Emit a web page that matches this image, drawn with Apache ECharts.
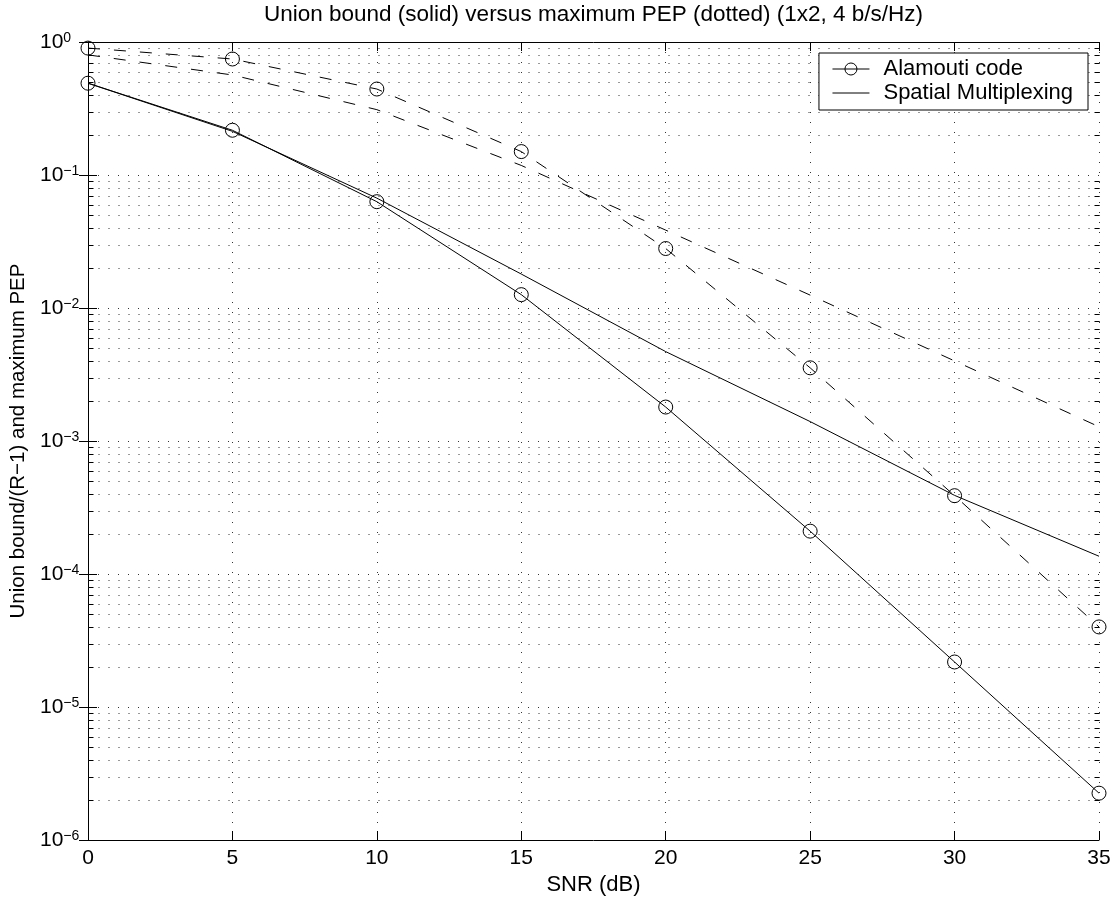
<!DOCTYPE html>
<html>
<head>
<meta charset="utf-8">
<script src="https://cdn.jsdelivr.net/npm/echarts@6/dist/echarts.min.js"></script>
<style>
  html, body { margin: 0; padding: 0; background: #fff; }
  #chart { width: 1120px; height: 907px; }
</style>
</head>
<body>
<div id="chart"></div>
<script>
// SNR points (dB)
const snr = [0, 5, 10, 15, 20, 25, 30, 35];
// Union bound / (R-1), solid curves
const alamoutiUnion = [0.49, 0.217, 0.063, 0.0126, 0.0018, 2.1e-4, 2.18e-5, 2.25e-6];
const smUnion = [0.49, 0.213, 0.067, 0.0180, 0.0047, 0.00140, 3.9e-4, 1.36e-4];
// Maximum pairwise error probability, dashed curves
const alamoutiPEP = [0.90, 0.745, 0.443, 0.150, 0.0280, 0.00355, 3.88e-4, 4.0e-5];
const smPEP = [0.80, 0.565, 0.310, 0.118, 0.0385, 0.0125, 0.0040, 0.00128];

const xTicks = [0, 5, 10, 15, 20, 25, 30, 35];
const yDecades = [-6, -5, -4, -3, -2, -1, 0];
const legendNames = ['Alamouti code', 'Spatial Multiplexing'];
const titleText = 'Union bound (solid) versus maximum PEP (dotted) (1x2, 4 b/s/Hz)';
const xName = 'SNR (dB)';
const yName = 'Union bound/(R\u22121) and maximum PEP';

const FONT = '"Liberation Sans", Arial, Helvetica, sans-serif';

// minor log-grid positions: 2..9 within each decade
const minorValues = [];
for (let i = 0; i < yDecades.length - 1; i++) {
  for (let m = 2; m <= 9; m++) minorValues.push(m * Math.pow(10, yDecades[i]));
}

const pair = (ys) => snr.map((x, i) => [x, ys[i]]);
const DOT = [1, 9];
const DASH = [12, 14];
const X0 = xTicks[0], X1 = xTicks[xTicks.length - 1];
const YMIN = Math.pow(10, yDecades[0]), YMAX = Math.pow(10, yDecades[yDecades.length - 1]);
const OPEN_CIRCLE = { color: 'rgba(0,0,0,0)', borderColor: '#000', borderWidth: 1 };

const chart = echarts.init(document.getElementById('chart'), null, { renderer: 'canvas' });

const option = {
  animation: false,
  backgroundColor: '#fff',
  textStyle: { fontFamily: FONT, color: '#000' },
  grid: { left: 88, right: 21, top: 42, bottom: 67, containLabel: false },
  graphic: [{
    type: 'text',
    x: 593.5, y: 15,
    style: { text: titleText, font: '22.5px ' + FONT, fill: '#000', align: 'center', verticalAlign: 'middle' }
  }],
  legend: {
    data: [
      { name: legendNames[0], itemStyle: OPEN_CIRCLE },
      { name: legendNames[1], itemStyle: { color: 'rgba(0,0,0,0)', borderWidth: 0 } }
    ],
    orient: 'vertical',
    right: 32, top: 53,
    backgroundColor: '#fff',
    borderColor: '#000', borderWidth: 1, borderRadius: 0,
    padding: [4, 15, 5, 13],
    itemWidth: 37, itemHeight: 15, itemGap: 0,
    selectedMode: false,
    lineStyle: { width: 1, color: '#000' },
    textStyle: { fontFamily: FONT, fontSize: 22, lineHeight: 24, color: '#000', padding: [0, 0, 0, 9] }
  },
  xAxis: [{
    type: 'value', min: X0, max: X1, interval: 5, position: 'bottom',
    name: xName, nameLocation: 'middle', nameGap: 34,
    nameTextStyle: { fontFamily: FONT, fontSize: 22, color: '#000' },
    axisLine: { lineStyle: { color: '#000', width: 1 } },
    axisTick: { inside: true, length: 9, lineStyle: { color: '#000' } },
    axisLabel: { fontFamily: FONT, fontSize: 21, color: '#000', margin: 8 },
    splitLine: { show: true, lineStyle: { color: '#333', type: DOT, width: 1 } }
  }, {
    type: 'value', min: X0, max: X1, interval: 5, position: 'top',
    axisLine: { lineStyle: { color: '#000', width: 1 } },
    axisTick: { inside: true, length: 9, lineStyle: { color: '#000' } },
    axisLabel: { show: false }, splitLine: { show: false }
  }],
  yAxis: [{
    type: 'log', logBase: 10, min: YMIN, max: YMAX, position: 'left',
    name: yName, nameLocation: 'middle', nameGap: 57,
    nameTextStyle: { fontFamily: FONT, fontSize: 20.5, color: '#000' },
    axisLine: { lineStyle: { color: '#000', width: 1 } },
    axisTick: { inside: true, length: 9, lineStyle: { color: '#000' } },
    axisLabel: {
      align: 'left', margin: 48,
      formatter: (v) => {
        const e = Math.round(Math.log10(v));
        return '{b|10}{s|' + (e < 0 ? '\u2212' + (-e) : String(e)) + '}';
      },
      rich: {
        b: { fontFamily: FONT, fontSize: 21, lineHeight: 21, color: '#000', verticalAlign: 'bottom' },
        s: { fontFamily: FONT, fontSize: 14, lineHeight: 14, color: '#000', verticalAlign: 'top', padding: [0, 0, 10, 0] }
      }
    },
    splitLine: { show: true, lineStyle: { color: '#333', type: DOT, width: 1 } }
  }, {
    type: 'log', logBase: 10, min: YMIN, max: YMAX, position: 'right',
    axisLine: { lineStyle: { color: '#000', width: 1 } },
    axisTick: { inside: true, length: 9, lineStyle: { color: '#000' } },
    axisLabel: { show: false }, splitLine: { show: false }
  }],
  series: [
    {
      // minor log grid lines and minor ticks on both y sides
      type: 'custom', name: 'minor-grid', silent: true, z: 1,
      xAxisIndex: 0, yAxisIndex: 0,
      data: minorValues.map(v => [X0, v]),
      renderItem: (params, api) => {
        const v = api.value(1);
        const a = api.coord([X0, v]);
        const b = api.coord([X1, v]);
        const y = Math.round(a[1]) + 0.5;
        const xl = Math.round(a[0]) + 0.5, xr = Math.round(b[0]) + 0.5;
        return {
          type: 'group',
          children: [
            { type: 'line', shape: { x1: xl, y1: y, x2: xr, y2: y }, style: { stroke: '#333', lineWidth: 1, lineDash: DOT } },
            { type: 'line', shape: { x1: xl, y1: y, x2: xl + 5, y2: y }, style: { stroke: '#000', lineWidth: 1 } },
            { type: 'line', shape: { x1: xr - 5, y1: y, x2: xr, y2: y }, style: { stroke: '#000', lineWidth: 1 } }
          ]
        };
      }
    },
    {
      name: 'Spatial Multiplexing', type: 'line', data: pair(smUnion),
      symbol: 'none', clip: false, z: 3,
      lineStyle: { color: '#000', width: 1 }, itemStyle: { color: '#000' }
    },
    {
      name: 'Alamouti code', type: 'line', data: pair(alamoutiUnion),
      symbol: 'circle', symbolSize: 14, clip: false, z: 4,
      lineStyle: { color: '#000', width: 1 },
      itemStyle: OPEN_CIRCLE
    },
    {
      name: 'Spatial Multiplexing PEP', type: 'line', data: pair(smPEP),
      symbol: 'none', clip: false, z: 3,
      lineStyle: { color: '#000', width: 1, type: DASH }
    },
    {
      name: 'Alamouti code PEP', type: 'line', data: pair(alamoutiPEP),
      symbol: 'circle', symbolSize: 14, clip: false, z: 4,
      lineStyle: { color: '#000', width: 1, type: DASH },
      itemStyle: OPEN_CIRCLE
    }
  ]
};

chart.setOption(option);
</script>
</body>
</html>
